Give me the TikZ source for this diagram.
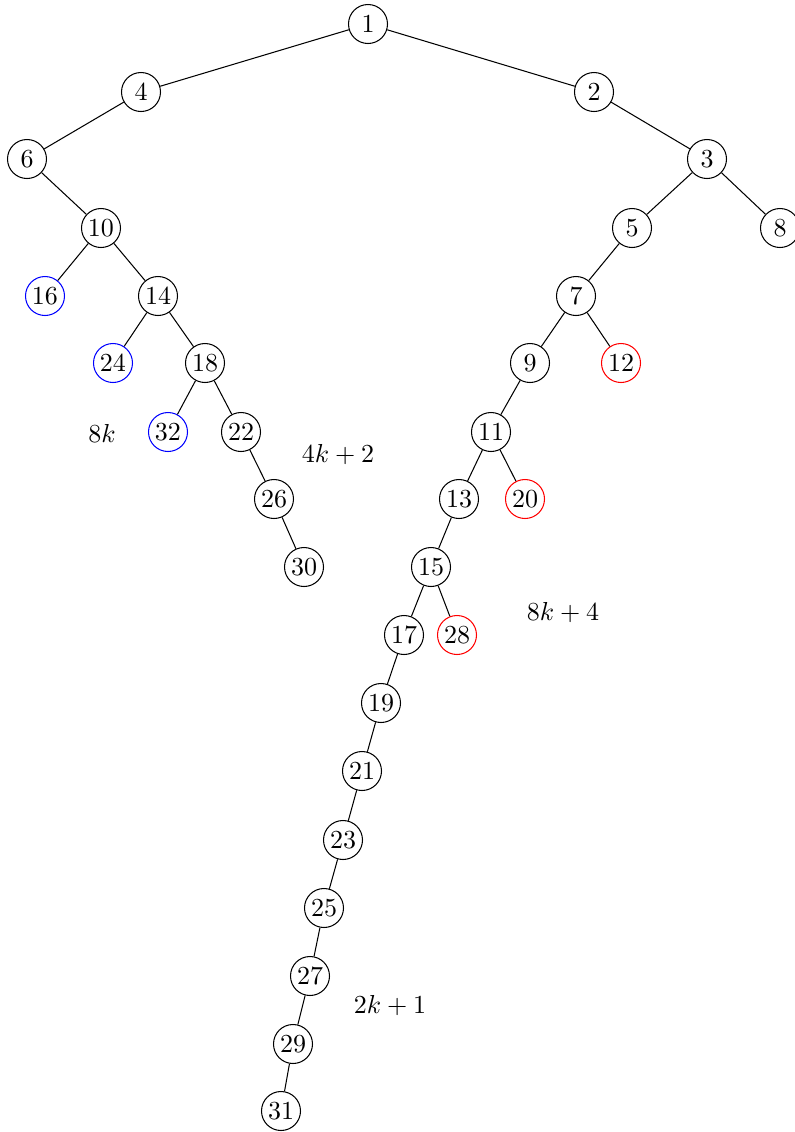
\documentclass[tikz,border=0pt]{standalone}
\begin{document}
\begin{tikzpicture}[x=0.3846pt,y=-0.3846pt,
  n/.style={circle,draw,inner sep=1pt,minimum size=15pt},
  bl/.style={n,draw=blue},
  rd/.style={n,draw=red},
  lab/.style={inner sep=0pt}]
\useasboundingbox (0,0) rectangle (795,1132);
\node[n] (n1) at (368,24) {1};
\node[n] (n4) at (141,92) {4};
\node[n] (n2) at (594,92) {2};
\node[n] (n6) at (27,159) {6};
\node[n] (n3) at (707,159) {3};
\node[n] (n10) at (101,228) {10};
\node[n] (n5) at (632,228) {5};
\node[n] (n8) at (780,228) {8};
\node[bl] (n16) at (45,296) {16};
\node[n] (n14) at (158,296) {14};
\node[n] (n7) at (576,296) {7};
\node[bl] (n24) at (113,363) {24};
\node[n] (n18) at (205,363) {18};
\node[n] (n9) at (530,363) {9};
\node[rd] (n12) at (621,363) {12};
\node[bl] (n32) at (168,432) {32};
\node[n] (n22) at (241,432) {22};
\node[n] (n11) at (491,432) {11};
\node[n] (n26) at (274,499) {26};
\node[n] (n13) at (459,499) {13};
\node[rd] (n20) at (525,499) {20};
\node[n] (n30) at (304,567) {30};
\node[n] (n15) at (431,567) {15};
\node[n] (n17) at (404,635) {17};
\node[rd] (n28) at (457,635) {28};
\node[n] (n19) at (381,703) {19};
\node[n] (n21) at (362,771) {21};
\node[n] (n23) at (343,840) {23};
\node[n] (n25) at (324,908) {25};
\node[n] (n27) at (310,976) {27};
\node[n] (n29) at (293,1044) {29};
\node[n] (n31) at (281,1111) {31};
\node[lab] (l1) at (102,433) {$8k$};
\node[lab] (l2) at (338,455) {$4k+2$};
\node[lab] (l3) at (563,613) {$8k+4$};
\node[lab] (l4) at (390,1006) {$2k+1$};
\draw (n1) -- (n4);
\draw (n1) -- (n2);
\draw (n4) -- (n6);
\draw (n6) -- (n10);
\draw (n10) -- (n16);
\draw (n10) -- (n14);
\draw (n14) -- (n24);
\draw (n14) -- (n18);
\draw (n18) -- (n32);
\draw (n18) -- (n22);
\draw (n22) -- (n26);
\draw (n26) -- (n30);
\draw (n2) -- (n3);
\draw (n3) -- (n5);
\draw (n3) -- (n8);
\draw (n5) -- (n7);
\draw (n7) -- (n9);
\draw (n7) -- (n12);
\draw (n9) -- (n11);
\draw (n11) -- (n13);
\draw (n11) -- (n20);
\draw (n13) -- (n15);
\draw (n15) -- (n17);
\draw (n15) -- (n28);
\draw (n17) -- (n19);
\draw (n19) -- (n21);
\draw (n21) -- (n23);
\draw (n23) -- (n25);
\draw (n25) -- (n27);
\draw (n27) -- (n29);
\draw (n29) -- (n31);
\end{tikzpicture}
\end{document}
